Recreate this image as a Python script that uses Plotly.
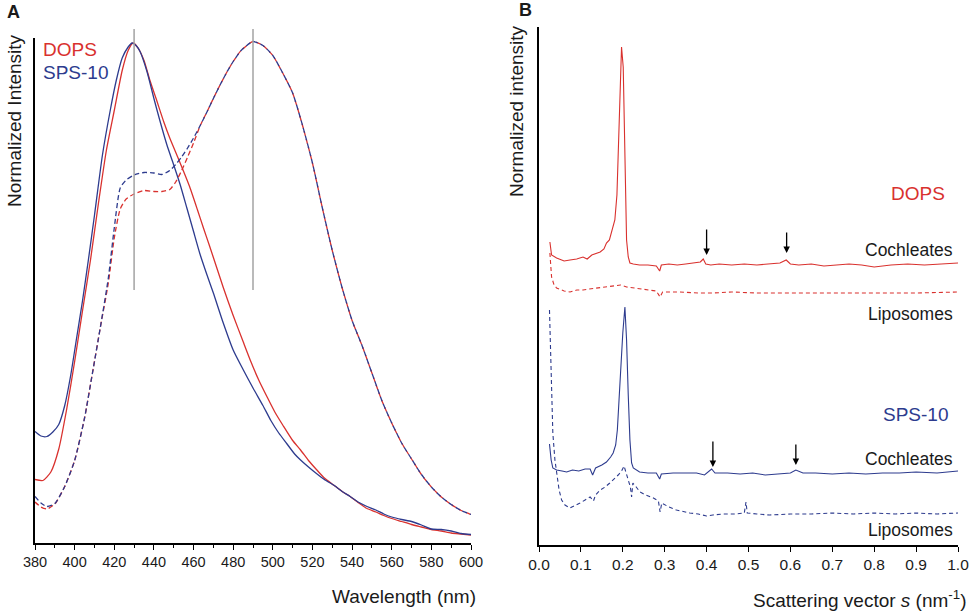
import plotly.graph_objects as go

W, H = 973, 615
RED = "#d9312e"
BLUE = "#2d3b8e"
FONT = "Liberation Sans, Arial, sans-serif"

# ---- panel A: fluorescence emission spectra ----
wl_dops = [380, 384, 388, 392, 396, 400, 404, 408, 412, 416, 420, 424, 427, 429.5, 432, 435,
           438, 441, 445, 448, 452, 455, 458, 462, 465, 468, 472, 475, 480, 485, 489, 493, 497,
           501, 505, 510, 514, 518, 522, 526, 531, 535, 539, 543, 547, 552, 556, 560, 565, 570,
           575, 580, 585, 590, 595, 600]
int_dops = [0.127, 0.125, 0.142, 0.188, 0.268, 0.363, 0.465, 0.566, 0.679, 0.785, 0.865, 0.945,
            0.985, 1.0, 0.99, 0.965, 0.925, 0.89, 0.842, 0.81, 0.772, 0.743, 0.713, 0.666, 0.63,
            0.595, 0.547, 0.511, 0.455, 0.403, 0.362, 0.325, 0.293, 0.262, 0.236, 0.205, 0.186,
            0.165, 0.147, 0.13, 0.115, 0.103, 0.093, 0.081, 0.070, 0.062, 0.055, 0.049, 0.043,
            0.037, 0.032, 0.027, 0.024, 0.020, 0.018, 0.016]

wl_sps = [380, 383, 386, 389, 392, 395, 398, 401, 404, 407, 410, 414, 418, 421, 424, 427, 429,
          431, 433, 436.5, 440, 443, 446.5, 450, 453.3, 456.7, 460, 463.4, 466.8, 470, 475, 480,
          485, 490, 495, 499, 503, 507, 511, 514, 518, 522, 526, 531, 535, 539, 543, 547, 552,
          556, 560, 565, 570, 575, 580, 585, 590, 595, 600]
int_sps = [0.223, 0.214, 0.213, 0.222, 0.237, 0.275, 0.335, 0.41, 0.485, 0.568, 0.655, 0.775,
           0.866, 0.925, 0.97, 0.992, 1.0, 0.995, 0.983, 0.943, 0.889, 0.845, 0.797, 0.756,
           0.716, 0.669, 0.623, 0.576, 0.536, 0.50, 0.44, 0.386, 0.347, 0.31, 0.275, 0.245,
           0.22, 0.199, 0.178, 0.166, 0.152, 0.139, 0.127, 0.115, 0.103, 0.093, 0.082, 0.074,
           0.066, 0.058, 0.052, 0.047, 0.043, 0.036, 0.028, 0.027, 0.024, 0.019, 0.017]

wl_dash = [380, 383, 386, 390, 395, 400, 405, 409, 413, 417, 420, 423, 426, 430, 435, 440, 444,
           448, 451, 454, 457, 460, 463.5, 467, 470, 473.5, 477, 480, 484, 490, 495, 500, 505,
           510, 515, 520, 525, 530, 535, 540, 545, 550, 555, 560, 565, 570, 575, 580, 585, 590,
           595, 600]
int_dops_dash = [0.082, 0.072, 0.068, 0.078, 0.113, 0.165, 0.25, 0.34, 0.432, 0.52, 0.61, 0.668,
                 0.688, 0.698, 0.705, 0.703, 0.703, 0.707, 0.722, 0.745, 0.772, 0.80, 0.836,
                 0.864, 0.889, 0.917, 0.943, 0.963, 0.985, 1.003, 0.995, 0.975, 0.94, 0.90,
                 0.835, 0.76, 0.67, 0.585, 0.51, 0.445, 0.395, 0.34, 0.285, 0.24, 0.20, 0.168,
                 0.137, 0.112, 0.092, 0.077, 0.065, 0.057]
int_sps_dash = [0.093, 0.080, 0.073, 0.079, 0.113, 0.165, 0.25, 0.34, 0.432, 0.53, 0.63, 0.71,
                0.726, 0.736, 0.741, 0.740, 0.737, 0.745, 0.757, 0.772, 0.79, 0.81, 0.836,
                0.864, 0.889, 0.917, 0.943, 0.963, 0.985, 1.003, 0.995, 0.975, 0.94, 0.90,
                0.835, 0.76, 0.67, 0.585, 0.51, 0.445, 0.395, 0.34, 0.285, 0.24, 0.20, 0.168,
                0.137, 0.112, 0.092, 0.077, 0.065, 0.057]

peak_lines = [430, 490]

# ---- panel B: SAXS profiles ----
s_dops_coch = [0.026, 0.030, 0.042, 0.060, 0.074, 0.090, 0.105, 0.115, 0.126, 0.137, 0.146,
               0.155, 0.161, 0.168, 0.173, 0.177, 0.181, 0.186, 0.190, 0.193, 0.197, 0.201,
               0.205, 0.209, 0.213, 0.217, 0.225, 0.24, 0.26, 0.28, 0.288, 0.292, 0.31, 0.33,
               0.35, 0.37, 0.385, 0.392, 0.398, 0.41, 0.43, 0.46, 0.49, 0.52, 0.55, 0.575, 0.59,
               0.60, 0.62, 0.65, 0.68, 0.71, 0.74, 0.77, 0.80, 0.84, 0.88, 0.92, 0.96, 1.0]
i_dops_coch = [3.03, 2.90, 2.87, 2.84, 2.85, 2.86, 2.88, 2.86, 2.90, 2.92, 2.93, 2.96, 3.02,
               3.05, 3.12, 3.18, 3.25, 3.50, 4.00, 4.45, 4.98, 4.78, 3.78, 3.05, 2.88, 2.82,
               2.81, 2.80, 2.80, 2.79, 2.74, 2.80, 2.81, 2.80, 2.81, 2.82, 2.83, 2.86, 2.81,
               2.80, 2.81, 2.80, 2.81, 2.80, 2.81, 2.82, 2.85, 2.81, 2.80, 2.81, 2.79, 2.80,
               2.81, 2.80, 2.78, 2.80, 2.81, 2.80, 2.81, 2.82]

s_dops_lipo = [0.026, 0.030, 0.036, 0.042, 0.060, 0.074, 0.090, 0.105, 0.120, 0.137, 0.155,
               0.177, 0.195, 0.209, 0.230, 0.257, 0.280, 0.289, 0.295, 0.336, 0.380, 0.416,
               0.460, 0.520, 0.600, 0.700, 0.800, 0.900, 1.0]
i_dops_lipo = [2.92, 2.68, 2.60, 2.57, 2.54, 2.53, 2.55, 2.55, 2.56, 2.57, 2.58, 2.59, 2.60,
               2.58, 2.57, 2.55, 2.54, 2.48, 2.53, 2.53, 2.52, 2.52, 2.53, 2.52, 2.52, 2.52,
               2.52, 2.52, 2.53]

s_sps_coch = [0.025, 0.029, 0.033, 0.042, 0.055, 0.066, 0.080, 0.095, 0.110, 0.122, 0.128,
              0.135, 0.150, 0.161, 0.171, 0.177, 0.183, 0.187, 0.191, 0.196, 0.200, 0.205,
              0.209, 0.213, 0.217, 0.221, 0.225, 0.24, 0.26, 0.28, 0.288, 0.292, 0.32, 0.35,
              0.376, 0.395, 0.405, 0.412, 0.42, 0.45, 0.48, 0.51, 0.54, 0.57, 0.60, 0.613,
              0.63, 0.66, 0.70, 0.74, 0.78, 0.82, 0.86, 0.90, 0.95, 1.0]
i_sps_coch = [1.01, 0.85, 0.77, 0.75, 0.74, 0.73, 0.75, 0.74, 0.76, 0.76, 0.70, 0.77, 0.80,
              0.83, 0.88, 0.92, 1.00, 1.15, 1.45, 1.85, 2.12, 2.38, 2.05, 1.50, 1.05, 0.82,
              0.77, 0.73, 0.72, 0.72, 0.66, 0.71, 0.72, 0.72, 0.72, 0.70, 0.74, 0.76, 0.72,
              0.72, 0.71, 0.72, 0.70, 0.71, 0.72, 0.75, 0.72, 0.72, 0.71, 0.72, 0.71, 0.72,
              0.72, 0.73, 0.72, 0.74]

s_sps_lipo = [0.025, 0.029, 0.033, 0.038, 0.042, 0.048, 0.054, 0.062, 0.074, 0.085, 0.098,
              0.110, 0.122, 0.130, 0.135, 0.146, 0.158, 0.169, 0.180, 0.189, 0.197, 0.203,
              0.208, 0.213, 0.218, 0.221, 0.224, 0.232, 0.241, 0.255, 0.273, 0.285, 0.289,
              0.293, 0.31, 0.328, 0.345, 0.36, 0.38, 0.40, 0.415, 0.44, 0.47, 0.49, 0.494,
              0.497, 0.52, 0.55, 0.60, 0.65, 0.70, 0.75, 0.80, 0.85, 0.90, 0.95, 1.0]
i_sps_lipo = [2.35, 1.80, 1.12, 0.85, 0.72, 0.55, 0.45, 0.40, 0.37, 0.39, 0.42, 0.45, 0.48,
              0.44, 0.50, 0.55, 0.58, 0.62, 0.66, 0.70, 0.74, 0.79, 0.72, 0.65, 0.58, 0.48,
              0.62, 0.58, 0.53, 0.50, 0.47, 0.44, 0.33, 0.42, 0.38, 0.35, 0.33, 0.32, 0.31,
              0.29, 0.30, 0.31, 0.31, 0.32, 0.43, 0.32, 0.31, 0.30, 0.31, 0.31, 0.32, 0.31,
              0.32, 0.31, 0.32, 0.31, 0.32]

# arrows marking the higher-order reflections (s, intensity, arrow length px)
arrows_dops = [(0.400, 2.90, 27), (0.591, 2.92, 22)]
arrows_sps = [(0.415, 0.78, 27), (0.613, 0.80, 22)]


def px(x):
    return x / W


def py(y):
    return 1 - y / H


fig = go.Figure()

for x, y, c, d in [(wl_dops, int_dops, RED, "solid"), (wl_sps, int_sps, BLUE, "solid"),
                   (wl_dash, int_dops_dash, RED, "5px,3px"), (wl_dash, int_sps_dash, BLUE, "5px,3px")]:
    fig.add_trace(go.Scatter(x=x, y=y, mode="lines", line=dict(color=c, width=1.3, dash=d, shape="spline", smoothing=0.6),
                             xaxis="x", yaxis="y", showlegend=False, hoverinfo="skip"))

for x, y, c, d in [(s_dops_coch, i_dops_coch, RED, "solid"), (s_dops_lipo, i_dops_lipo, RED, "4px,3px"),
                   (s_sps_coch, i_sps_coch, BLUE, "solid"), (s_sps_lipo, i_sps_lipo, BLUE, "4px,3px")]:
    fig.add_trace(go.Scatter(x=x, y=y, mode="lines", line=dict(color=c, width=1.1, dash=d),
                             xaxis="x2", yaxis="y2", showlegend=False, hoverinfo="skip"))

for wl in peak_lines:
    fig.add_shape(type="line", xref="x", yref="paper", x0=wl, x1=wl, y0=py(290), y1=py(29),
                  line=dict(color="#a3a3a3", width=1.5))

axis_common = dict(showline=True, linecolor="black", linewidth=1.5, showgrid=False, zeroline=False,
                   ticks="outside", ticklen=5, tickwidth=1, tickcolor="black", automargin=False)
yaxis_common = dict(showline=True, linecolor="black", linewidth=1.5, showgrid=False, zeroline=False,
                    showticklabels=False, ticks="", automargin=False)

fig.update_layout(
    width=W, height=H,
    margin=dict(l=0, r=0, t=0, b=0, pad=0),
    paper_bgcolor="white", plot_bgcolor="white",
    font=dict(family=FONT, color="#1a1a1a"),
    xaxis=dict(domain=[px(35), px(471)], range=[380, 600], dtick=20, anchor="y",
               tickfont=dict(size=14.5), minor=dict(ticks="outside", dtick=10, ticklen=3, tickcolor="black"),
               **axis_common),
    yaxis=dict(domain=[py(543), py(38)], range=[0, 1.01], anchor="x", **yaxis_common),
    xaxis2=dict(domain=[px(539), px(958)], range=[0, 1.0], dtick=0.1, tickformat=".1f", anchor="y2",
                tickfont=dict(size=15.5), **axis_common),
    yaxis2=dict(domain=[py(545), py(27)], range=[0, 5.18], anchor="x2", **yaxis_common),
)


def label(text, x, y, size, color="#1a1a1a", xanchor="center", angle=0, bold=False):
    fig.add_annotation(text=f"<b>{text}</b>" if bold else text, x=px(x), y=py(y), xref="paper", yref="paper",
                       showarrow=False, xanchor=xanchor, yanchor="middle", textangle=angle,
                       font=dict(size=size, color=color, family=FONT))


label("A", 13, 12, 18, bold=True)
label("B", 525, 10, 18, bold=True)
label("Normalized Intensity", 14, 121, 19, angle=-90)
label("Normalized intensity", 517, 111, 19, angle=-90)
label("Wavelength (nm)", 478, 596, 19, xanchor="right")
label("Scattering vector <i>s</i> (nm<sup>-1</sup>)", 969, 599, 19, xanchor="right")
label("DOPS", 41, 49, 19, color=RED, xanchor="left")
label("SPS-10", 41, 73, 19, color=BLUE, xanchor="left")
label("DOPS", 918, 193, 19, color=RED)
label("Cochleates", 955, 250, 17.5, xanchor="right")
label("Liposomes", 955, 314, 17.5, xanchor="right")
label("SPS-10", 915, 414, 19, color=BLUE)
label("Cochleates", 955, 459, 17.5, xanchor="right")
label("Liposomes", 955, 530, 17.5, xanchor="right")

for s, v, length in arrows_dops + arrows_sps:
    fig.add_annotation(x=s, y=v, xref="x2", yref="y2", text="", showarrow=True, ax=0, ay=-length,
                       arrowhead=2, arrowsize=1, arrowwidth=1.3, arrowcolor="black", standoff=0)

# the page body has a default 8px margin; drop it so the figure sits at the window's corner
fig.write_html("out.html", config={"displayModeBar": False},
               post_script="document.body.style.margin = '0';")
